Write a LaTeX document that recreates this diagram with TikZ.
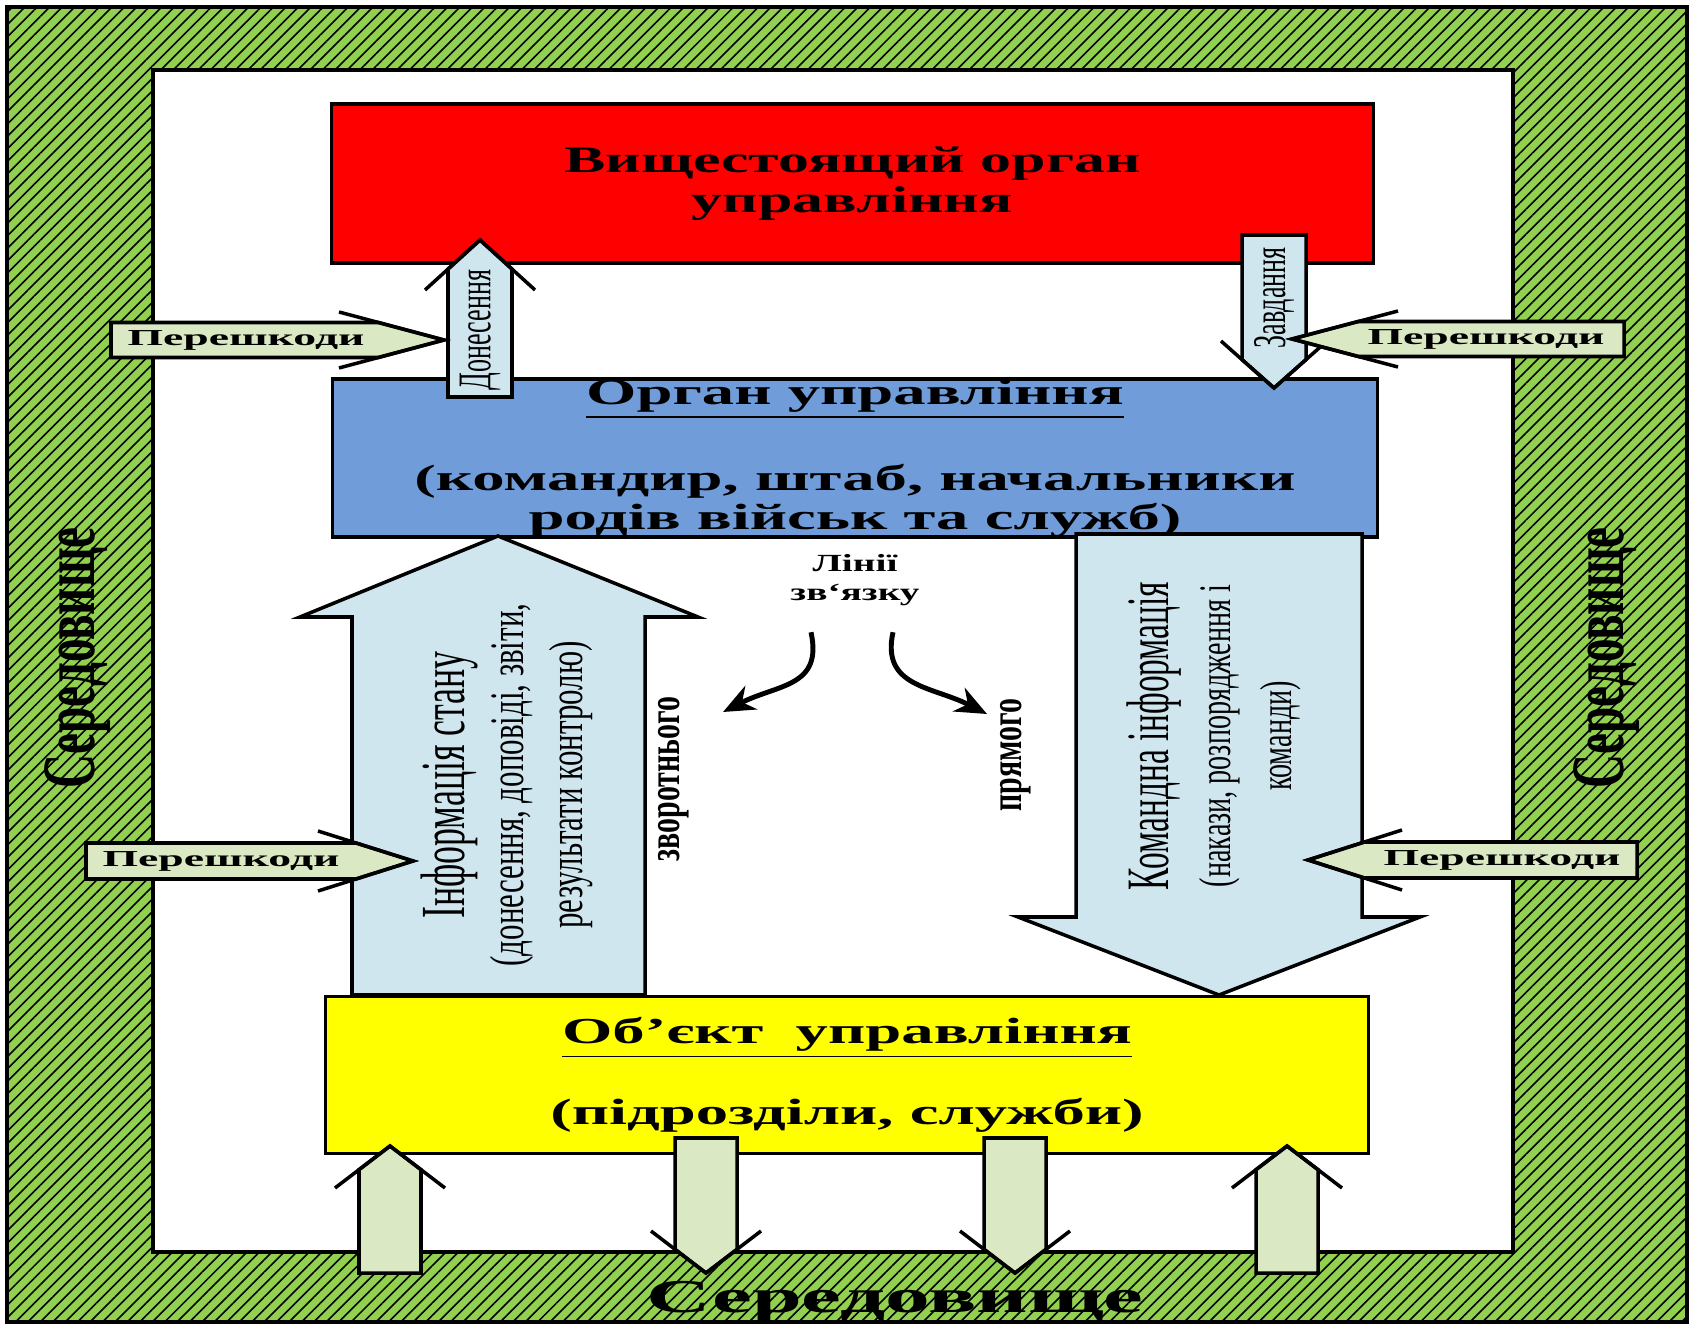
\documentclass[tikz,border=0pt]{standalone}
\usepackage{fontspec}
\setmainfont{Liberation Serif}
\usepackage{graphicx}
\usetikzlibrary{patterns.meta,arrows.meta,calc}

\definecolor{envgreen}{RGB}{146,208,80}
\definecolor{topred}{RGB}{255,0,0}
\definecolor{orgblue}{RGB}{112,157,218}
\definecolor{objyellow}{RGB}{255,255,0}
\definecolor{flowblue}{RGB}{207,230,239}
\definecolor{noisegreen}{RGB}{218,232,196}

% stretched text (horizontal) and stretched text for rotated labels
\newcommand{\wide}[2][1.95]{\scalebox{#1}[1]{#2}}
\newcommand{\tall}[2][1.4]{\scalebox{1}[#1]{#2}}

% arrow with a pointed head whose sides run past the shaft
% #1 length, #2 half width, #3 half spread of head, #4 head depth, #5 fill
\newcommand{\openarrow}[5]{%
  \filldraw[fill=#5] (-#2,0) -- (-#2,{#1-#4*#2/#3}) -- (0,#1) -- (#2,{#1-#4*#2/#3}) -- (#2,0) -- cycle;
  \draw (-#3,{#1-#4}) -- (0,#1) -- (#3,{#1-#4});
}

\tikzset{
  outline/.style={line width=1pt},
  box/.style={draw, line width=1pt, inner sep=0pt, align=center},
  noise/.style={font=\fontsize{6.5}{8}\selectfont\bfseries},
  env/.style={font=\fontsize{13.4}{16}\selectfont\bfseries},
  linkarrow/.style={line width=1.4pt, -{Stealth[length=9pt, width=7.5pt]}},
}

\begin{document}
\begin{tikzpicture}[x=0.01cm, y=0.01cm, line join=miter]
    \useasboundingbox (0,0) rectangle (1691,-1325);

    % Environment frame
    \fill[envgreen] (7,-7) rectangle (1687,-1322);
    \fill[pattern={Lines[angle=45, distance=2.5pt, line width=0.45pt]}] (7,-7) rectangle (1687,-1322);
    \draw[outline] (7,-7) rectangle (1687,-1322);
    \filldraw[outline, fill=white] (153,-70) rectangle (1513,-1252);

    % Higher body
    \node[box, fill=topred, minimum width=10.41cm, minimum height=1.59cm,
          font=\fontsize{10.6}{11.4}\selectfont\bfseries] (top) at (852.5,-183.5)
          {\wide[1.66]{Вищестоящий орган}\\\wide[1.66]{управління}};

    % Control body
    \node[box, fill=orgblue, minimum width=10.44cm, minimum height=1.58cm,
          font=\fontsize{10.4}{10.9}\selectfont\bfseries] (body) at (855,-458)
          {\wide[1.77]{\underline{Орган управління}}\\[12pt]
           \wide[1.77]{(командир, штаб, начальники}\\\wide[1.77]{родів військ та служб)}};

    % Status information, up
    \filldraw[outline, fill=flowblue] (352,-995) -- (352,-617) -- (300,-617) -- (498,-536)
        -- (698,-617) -- (645,-617) -- (645,-995) -- cycle;
    % Command information, down
    \filldraw[outline, fill=flowblue] (1076,-534) -- (1362,-534) -- (1362,-917) -- (1420,-917)
        -- (1219,-995) -- (1018,-917) -- (1076,-917) -- cycle;

    % Object of control
    \node[box, fill=objyellow, minimum width=10.42cm, minimum height=1.57cm,
          font=\fontsize{10.4}{11}\selectfont\bfseries] (obj) at (847,-1075)
          {\wide[1.77]{\underline{Об’єкт\ \ управління}}\\[10.3pt]\wide[1.77]{(підрозділи, служби)}};

    % Reports up, tasks down
    \begin{scope}[shift={(480,-397)}, outline]
        \openarrow{157}{32}{55}{50}{flowblue}
    \end{scope}
    \begin{scope}[shift={(1274,-235)}, rotate=180, outline]
        \openarrow{153}{32}{53}{47}{flowblue}
    \end{scope}

    % Interference
    \foreach \ax/\ay/\turn/\alen/\ahw/\aspan/\adrop in
        {111/-340/-90/333/17.5/28/105, 1624/-339/90/332/17.5/28/106,
         86/-861/-90/327/18/30/95, 1637/-860/90/329/18/30/94} {
        \begin{scope}[shift={(\ax,\ay)}, rotate=\turn, outline]
            \openarrow{\alen}{\ahw}{\aspan}{\adrop}{noisegreen}
        \end{scope}
    }
    \node[noise] (noise1) at (246,-340) {\wide[2]{Перешкоди}};
    \node[noise] (noise2) at (1486,-339) {\wide[2]{Перешкоди}};
    \node[noise] (noise3) at (221,-861) {\wide[2]{Перешкоди}};
    \node[noise] (noise4) at (1502,-860) {\wide[2]{Перешкоди}};

    % Exchange with the environment
    \foreach \ax/\ay/\turn/\alen in {390/-1273/0/127, 706/-1138/180/135, 1015/-1138/180/135, 1287/-1273/0/127} {
        \begin{scope}[shift={(\ax,\ay)}, rotate=\turn, outline]
            \openarrow{\alen}{31}{55}{42}{noisegreen}
        \end{scope}
    }

    % Labels on the arrows
    \node[rotate=90, font=\fontsize{7.4}{9}\selectfont] (rep) at (480,-330) {\tall[1.8]{Донесення}};
    \node[rotate=90, font=\fontsize{7.4}{9}\selectfont] (task) at (1274,-298) {\tall[1.8]{Завдання}};
    \node[rotate=90, align=center, font=\fontsize{8.8}{16.8}\selectfont] (state) at (507,-785)
        {\tall[1.75]{\fontsize{10.2}{12}\selectfont Інформація стану}\\\tall[1.55]{(донесення, доповіді, звіти,}\\\tall[1.55]{результати контролю)}};
    \node[rotate=90, align=center, font=\fontsize{8}{17.5}\selectfont] (cmd) at (1214,-736)
        {\tall[1.8]{\fontsize{9.5}{12}\selectfont Командна інформація}\\\tall[1.6]{(накази, розпорядження і}\\\tall[1.6]{команди)}};

    % Communication lines
    \node[align=center, font=\fontsize{7}{8.3}\selectfont\bfseries] (links) at (855,-580)
        {\wide[1.6]{Лінії}\\\wide[1.6]{зв‘язку}};
    \coordinate (back) at (723,-712);
    \coordinate (fwd) at (987,-714);
    \draw[linkarrow] ($(links.south)+(-44,-14)$) .. controls +(12,-55) and +(55,28) .. (back);
    \draw[linkarrow] ($(links.south)+(38,-14)$) .. controls +(-12,-55) and +(-55,28) .. (fwd);
    \node[rotate=90, font=\fontsize{8.5}{10}\selectfont\bfseries] (backlbl) at (674,-779) {\tall[1.5]{зворотнього}};
    \node[rotate=90, font=\fontsize{8.5}{10}\selectfont\bfseries] (fwdlbl) at (1016,-755) {\tall[1.5]{прямого}};

    % Environment
    \node[rotate=90, env] (envL) at (78,-658) {\tall[1.6]{Середовище}};
    \node[rotate=90, env] (envR) at (1607,-658) {\tall[1.6]{Середовище}};
    \node[font=\fontsize{13.4}{15}\selectfont\bfseries] (envB) at (895,-1302) {\wide[1.9]{Середовище}};

\end{tikzpicture}
\end{document}
